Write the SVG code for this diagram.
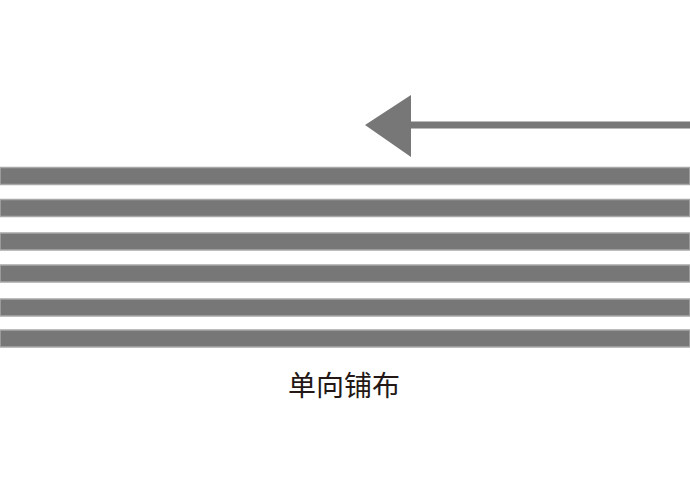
<svg xmlns="http://www.w3.org/2000/svg" width="690" height="500" viewBox="0 0 690 500">
<style>
.bar{fill:#777777;stroke:#a8a8a8;stroke-width:1.5}
.lbl{font-family:"Noto Sans CJK SC","Noto Sans",sans-serif;font-size:28px;fill:#231815;text-anchor:middle}
</style>
<rect width="690" height="500" fill="#ffffff"/>
<g id="connectors">
<line x1="690" y1="125" x2="405" y2="125" stroke="#777777" stroke-width="7"/>
<polygon points="365,125 411,95 411,157" fill="#777777"/>
</g>
<g id="layers">
<rect class="bar" x="0" y="167.5" width="690" height="17"/>
<rect class="bar" x="0" y="199.5" width="690" height="17"/>
<rect class="bar" x="0" y="233" width="690" height="17"/>
<rect class="bar" x="0" y="265" width="690" height="17"/>
<rect class="bar" x="0" y="299" width="690" height="17"/>
<rect class="bar" x="0" y="330" width="690" height="17"/>
</g>
<g id="label">
<text class="lbl" x="344" y="396">单向铺布</text>
</g>
</svg>
